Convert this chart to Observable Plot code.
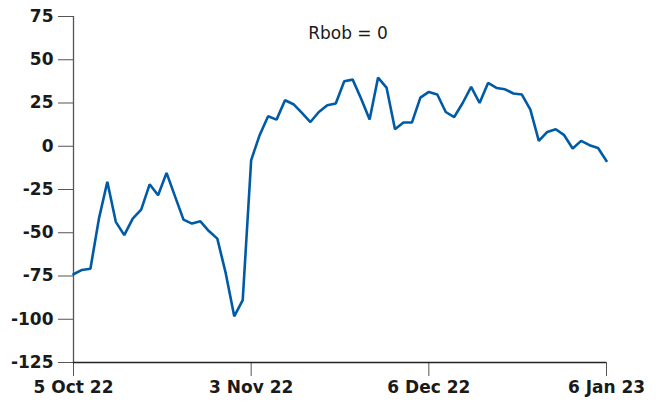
<!DOCTYPE html>
<html>
<head>
<meta charset="utf-8">
<script src="https://cdn.jsdelivr.net/npm/d3@7"></script>
<script src="https://cdn.jsdelivr.net/npm/@observablehq/plot@0.6"></script>
<style>
  html, body { margin: 0; padding: 0; background: #ffffff; }
</style>
</head>
<body>
<div id="chart"></div>
<script>
// Daily series (trading days, 5 Oct 22 .. 6 Jan 23)
const values = [
  -74, -71.5, -70.8, -42, -20.5, -43.7, -51.4, -41.8, -36.6, -22,
  -28.3, -15.4, -29, -42.4, -44.7, -43.4, -49, -53.4, -73.5, -98.3,
  -89, -8, 6.4, 17.3, 15.4, 26.6, 24.3, 19.3, 14, 19.8,
  23.7, 24.7, 37.6, 38.5, 27.5, 15.4, 39.7, 33.9, 9.8, 13.7,
  13.7, 28.1, 31.4, 29.9, 19.8, 16.9, 25, 34.3, 25, 36.6,
  33.7, 32.9, 30.5, 29.9, 21.2, 3.1, 8.3, 9.8, 6.4, -1.3,
  3.1, 0.6, -1, -8.5
];
const xTickIndex = [0, 21, 42, 63];
const xTickLabels = ["5 Oct 22", "3 Nov 22", "6 Dec 22", "6 Jan 23"];
const yTicks = [-125, -100, -75, -50, -25, 0, 25, 50, 75];
const title = "Rbob = 0";

const data = values.map((v, i) => ({i, v}));

const chart = Plot.plot({
  width: 667,
  height: 406,
  marginLeft: 73,
  marginRight: 61,
  marginTop: 16,
  marginBottom: 44,
  x: {domain: [0, values.length - 1]},
  y: {domain: [-125, 75]},
  style: {
    fontFamily: "DejaVu Sans",
    fontWeight: "bold",
    fontSize: "17px",
    color: "#1a1a1a",
    background: "#ffffff"
  },
  marks: [
    Plot.axisY({ticks: yTicks, tickSize: 15, tickPadding: 5, label: null, stroke: "#555", tickFormat: d => String(d)}),
    Plot.ruleX([0], {y1: -125, y2: 75, stroke: "#555", strokeWidth: 1.3}),
    Plot.axisX({ticks: xTickIndex, tickFormat: d => xTickLabels[xTickIndex.indexOf(d)], tickSize: 14, tickPadding: 4, label: null, stroke: "#555"}),
    Plot.ruleY([-125], {stroke: "#222", strokeWidth: 1.3}),
    Plot.lineY(data, {x: "i", y: "v", stroke: "#005ba6", strokeWidth: 2.6, strokeLinejoin: "miter"}),
    Plot.text([title], {frameAnchor: "top", dx: 8, dy: 17, lineAnchor: "middle", fontWeight: "normal", fontSize: 17, fill: "#1a1a1a"})
  ]
});
document.getElementById("chart").appendChild(chart);
</script>
</body>
</html>
